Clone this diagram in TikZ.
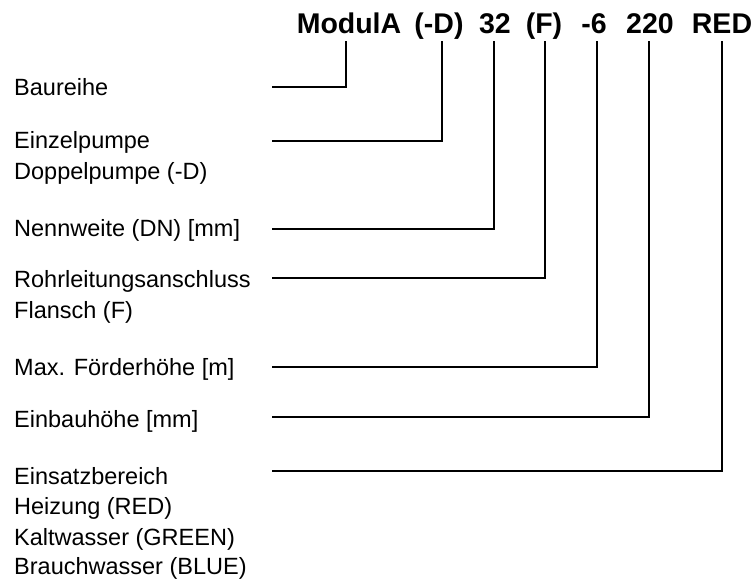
\documentclass[tikz,border=0pt]{standalone}
\usepackage{fontspec}
\setmainfont{Liberation Sans}
\begin{document}
\begin{tikzpicture}[x=1pt,y=-1pt,
  lbl/.style={anchor=base west,inner sep=0pt,font=\fontsize{23.5}{28}\selectfont},
  hdr/.style={anchor=base,inner sep=0pt,font=\fontsize{28.5}{34}\selectfont\bfseries},
  conn/.style={line width=1.3pt,line join=miter}]
\useasboundingbox (0,0) rectangle (756,587);
% header
\node[hdr] (h1) at (349,33) {ModulA};
\node[hdr] (h2) at (439,33) {(-D)};
\node[hdr] (h3) at (495,33) {32};
\node[hdr] (h4) at (544,33) {(F)};
\node[hdr] (h5) at (594,33) {-6};
\node[hdr] (h6) at (650,33) {220};
\node[hdr] (h7) at (722,33) {RED};
% labels
\node[lbl] (l1) at (14,95) {Baureihe};
\node[lbl] (l2) at (14,148.5) {Einzelpumpe};
\node[lbl] (l2b) at (14,179) {Doppelpumpe (-D)};
\node[lbl] (l3) at (14,236) {Nennweite (DN) [mm]};
\node[lbl] (l4) at (14,287.5) {Rohrleitungsanschluss};
\node[lbl] (l4b) at (14,318) {Flansch (F)};
\node[lbl] (l5) at (14,375) {Max. Förderhöhe [m]};
\node[lbl] (l6) at (14,427) {Einbauhöhe [mm]};
\node[lbl] (l7) at (14,484) {Einsatzbereich};
\node[lbl] (l7b) at (14,514.5) {Heizung (RED)};
\node[lbl] (l7c) at (14,545) {Kaltwasser (GREEN)};
\node[lbl] (l7d) at (14,574.5) {Brauchwasser (BLUE)};
% connector ends
\coordinate (s1) at (272,87);
\coordinate (s2) at (272,141);
\coordinate (s3) at (272,229);
\coordinate (s4) at (272,278);
\coordinate (s5) at (272,367);
\coordinate (s6) at (272,417);
\coordinate (s7) at (272,471);
\coordinate (t1) at (346,41);
\coordinate (t2) at (442,41);
\coordinate (t3) at (494,41);
\coordinate (t4) at (545,41);
\coordinate (t5) at (597,41);
\coordinate (t6) at (649,41);
\coordinate (t7) at (722,41);
\draw[conn] (s1) -| (t1);
\draw[conn] (s2) -| (t2);
\draw[conn] (s3) -| (t3);
\draw[conn] (s4) -| (t4);
\draw[conn] (s5) -| (t5);
\draw[conn] (s6) -| (t6);
\draw[conn] (s7) -| (t7);
\end{tikzpicture}
\end{document}
